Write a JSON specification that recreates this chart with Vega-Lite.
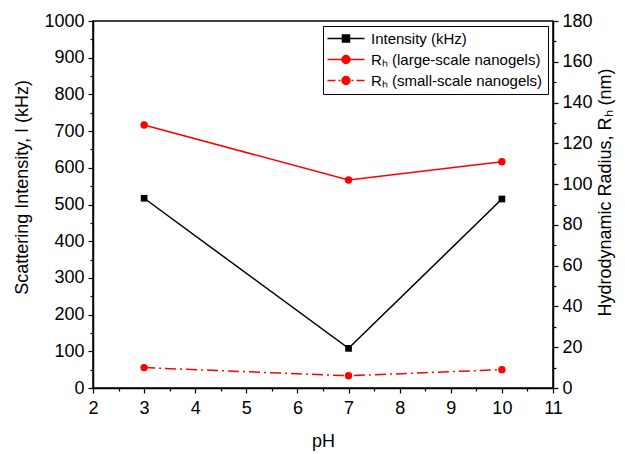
{
  "$schema": "https://vega.github.io/schema/vega-lite/v6.json",
  "width": 460,
  "height": 367,
  "autosize": {"type": "none"},
  "padding": {"left": 93, "top": 21, "right": 72, "bottom": 66},
  "background": "white",
  "config": {
    "font": "Liberation Sans",
    "view": {"stroke": "black", "strokeWidth": 1.5},
    "axis": {
      "grid": false,
      "domainColor": "black",
      "domainWidth": 1.5,
      "tickColor": "black",
      "tickWidth": 1.2,
      "labelColor": "black",
      "titleColor": "black",
      "labelFont": "Liberation Sans",
      "titleFont": "Liberation Sans",
      "labelFontSize": 18,
      "titleFontSize": 18,
      "titleFontWeight": "normal",
      "labelOverlap": false,
      "labelFlush": false,
      "format": "d"
    }
  },
  "datasets": {
    "intensity": [
      {"pH": 3, "series": "Intensity (kHz)", "value": 517},
      {"pH": 7, "series": "Intensity (kHz)", "value": 108},
      {"pH": 10, "series": "Intensity (kHz)", "value": 515}
    ],
    "radius": [
      {"pH": 3, "series": "Rₕ (large-scale nanogels)", "value": 129},
      {"pH": 7, "series": "Rₕ (large-scale nanogels)", "value": 102},
      {"pH": 10, "series": "Rₕ (large-scale nanogels)", "value": 111},
      {"pH": 3, "series": "Rₕ (small-scale nanogels)", "value": 10},
      {"pH": 7, "series": "Rₕ (small-scale nanogels)", "value": 6},
      {"pH": 10, "series": "Rₕ (small-scale nanogels)", "value": 9}
    ]
  },
  "encoding": {
    "x": {
      "field": "pH",
      "type": "quantitative",
      "scale": {"domain": [2, 11], "nice": false, "zero": false},
      "axis": {
        "title": "pH",
        "values": [2, 2.5, 3, 3.5, 4, 4.5, 5, 5.5, 6, 6.5, 7, 7.5, 8, 8.5, 9, 9.5, 10, 10.5, 11],
        "labelExpr": "datum.value % 1 === 0 ? datum.label : ''",
        "tickSize": {"condition": {"test": "datum.value % 1 !== 0", "value": 3}, "value": 5},
        "labelPadding": 6,
        "titlePadding": 15
      }
    }
  },
  "layer": [
    {
      "data": {"name": "intensity"},
      "encoding": {
        "y": {
          "field": "value",
          "type": "quantitative",
          "scale": {"domain": [0, 1000], "nice": false},
          "axis": {
            "orient": "left",
            "title": "Scattering Intensity, I (kHz)",
            "titleY": 166,
            "values": [0, 50, 100, 150, 200, 250, 300, 350, 400, 450, 500, 550, 600, 650, 700, 750, 800, 850, 900, 950, 1000],
            "labelExpr": "datum.value % 100 === 0 ? datum.label : ''",
            "tickSize": {"condition": {"test": "datum.value % 100 !== 0", "value": 3}, "value": 5},
            "labelPadding": 4,
            "titlePadding": 12
          }
        }
      },
      "layer": [
        {
          "mark": {"type": "line", "strokeWidth": 1.5},
          "encoding": {
            "color": {
              "field": "series",
              "type": "nominal",
              "scale": {
                "domain": ["Intensity (kHz)", "Rₕ (large-scale nanogels)", "Rₕ (small-scale nanogels)"],
                "range": ["black", "red", "red"]
              },
              "legend": {
                "title": null,
                "orient": "top-right",
                "offset": 5,
                "strokeColor": "black",
                "fillColor": "white",
                "padding": 5,
                "labelFontSize": 15,
                "labelFont": "Liberation Sans",
                "labelColor": "black",
                "labelLimit": 400,
                "symbolSize": 100,
                "labelOffset": 28,
                "rowPadding": 5,
                "encode": {
                  "symbols": {
                    "update": {
                      "shape": {"signal": "datum.index === 0 ? 'M-1.6,0H5.8M1.4,-0.7H2.8V0.7H1.4Z' : datum.index === 1 ? 'M-1.6,0H5.8M2.1,-0.8A0.8,0.8,0,1,1,2.1,0.8A0.8,0.8,0,1,1,2.1,-0.8Z' : 'M-1.6,0H0M0.6,0H1M2.1,-0.8A0.8,0.8,0,1,1,2.1,0.8A0.8,0.8,0,1,1,2.1,-0.8ZM3.2,0H3.6M4.2,0H5.8'"},
                      "fill": {"signal": "datum.index === 0 ? 'black' : 'red'"},
                      "stroke": {"signal": "datum.index === 0 ? 'black' : 'red'"},
                      "strokeWidth": {"value": 1.5},
                      "strokeDash": {"value": []},
                      "opacity": {"value": 1},
                      "fillOpacity": {"value": 1}
                    }
                  }
                }
              }
            }
          }
        },
        {
          "mark": {"type": "point", "shape": "square", "filled": true, "size": 45, "color": "black", "opacity": 1}
        },
        {
          "data": {"values": [{"label": "Nanogel 1"}]},
          "mark": {"type": "text", "align": "left", "baseline": "middle", "fontSize": 16, "font": "Liberation Sans", "color": "black"},
          "encoding": {
            "x": {"datum": 2.09, "type": "quantitative"},
            "y": {"datum": 959, "type": "quantitative"},
            "text": {"field": "label"}
          }
        }
      ]
    },
    {
      "data": {"name": "radius"},
      "encoding": {
        "y": {
          "field": "value",
          "type": "quantitative",
          "scale": {"domain": [0, 180], "nice": false},
          "axis": {
            "orient": "right",
            "title": "Hydrodynamic Radius, Rₕ (nm)",
            "titleAngle": 270,
            "titleBaseline": "top",
            "titleY": 171,
            "values": [0, 10, 20, 30, 40, 50, 60, 70, 80, 90, 100, 110, 120, 130, 140, 150, 160, 170, 180],
            "labelExpr": "datum.value % 20 === 0 ? datum.label : ''",
            "tickSize": {"condition": {"test": "datum.value % 20 !== 0", "value": 3}, "value": 5},
            "labelPadding": 4,
            "titlePadding": 4
          }
        }
      },
      "layer": [
        {
          "transform": [{"filter": "datum.series === 'Rₕ (large-scale nanogels)'"}],
          "mark": {"type": "line", "strokeWidth": 1.5},
          "encoding": {"color": {"field": "series", "type": "nominal"}}
        },
        {
          "transform": [{"filter": "datum.series === 'Rₕ (small-scale nanogels)'"}],
          "mark": {"type": "line", "strokeWidth": 1.5, "strokeDash": [11, 4, 2, 4]},
          "encoding": {"color": {"field": "series", "type": "nominal"}}
        },
        {
          "mark": {"type": "point", "shape": "circle", "filled": true, "size": 55, "color": "red", "opacity": 1}
        }
      ]
    }
  ],
  "resolve": {"scale": {"y": "independent"}}
}
